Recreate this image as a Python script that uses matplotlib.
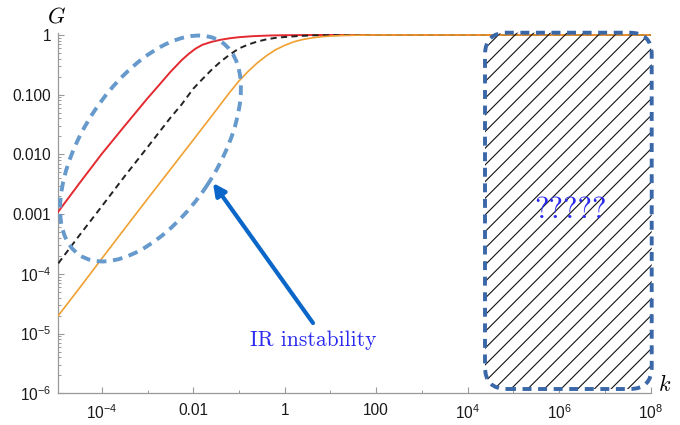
import matplotlib
matplotlib.use("Agg")
import matplotlib.pyplot as plt
from matplotlib.patches import Ellipse, FancyBboxPatch

plt.rcParams['mathtext.fontset'] = 'custom'
plt.rcParams['mathtext.rm'] = 'Liberation Sans'
plt.rcParams['mathtext.it'] = 'Liberation Sans:italic'
plt.rcParams['mathtext.bf'] = 'Liberation Sans:bold'
plt.rcParams['font.family'] = ['Liberation Sans', 'DejaVu Sans']
plt.rcParams['hatch.linewidth'] = 0.8

# ---- data ----
k_red = [1.12e-5, 3.16e-5, 1e-4, 3.16e-4, 1e-3, 2e-3, 3.16e-3, 5.6e-3, 7.9e-3,
         1.12e-2, 1.58e-2, 2.5e-2, 4e-2, 6.3e-2, 0.1, 0.2, 0.5, 1.0, 3.16, 10.0, 1e8]
G_red = [1.10e-3, 3.2e-3, 1.02e-2, 3.0e-2, 8.7e-2, 0.16, 0.24, 0.38, 0.48,
         0.59, 0.684, 0.767, 0.832, 0.881, 0.918, 0.955, 0.982, 0.991, 0.998, 1.0, 1.0]

k_black = [1.12e-5, 3.16e-5, 1e-4, 3.16e-4, 1e-3, 3.16e-3, 5.6e-3, 1e-2, 1.58e-2,
           2.5e-2, 4e-2, 6.3e-2, 0.1, 0.158, 0.25, 0.4, 0.63, 1.0, 2.0, 4.0, 10.0,
           31.6, 100.0, 1e8]
G_black = [1.5e-4, 4.3e-4, 1.35e-3, 4.3e-3, 1.32e-2, 4.1e-2, 6.9e-2, 0.126, 0.182,
           0.26, 0.36, 0.47, 0.595, 0.69, 0.775, 0.845, 0.895, 0.925, 0.96, 0.985,
           0.993, 0.998, 1.0, 1.0]

k_orange = [1.12e-5, 3.16e-5, 1e-4, 3.16e-4, 1e-3, 3.16e-3, 1e-2, 3.16e-2, 6.3e-2,
            0.1, 0.158, 0.25, 0.4, 0.63, 1.0, 1.58, 2.5, 4.0, 6.3, 10.0, 20.0, 50.0,
            100.0, 1e8]
G_orange = [2.0e-5, 5.6e-5, 1.8e-4, 5.7e-4, 1.8e-3, 5.6e-3, 1.75e-2, 0.055, 0.11,
            0.17, 0.245, 0.34, 0.45, 0.565, 0.67, 0.77, 0.84, 0.895, 0.935, 0.96,
            0.983, 0.995, 1.0, 1.0]

x_major = [1e-4, 1e-2, 1, 1e2, 1e4, 1e6, 1e8]
x_major_labels = [r'$10^{-4}$', '0.01', '1', '100', r'$10^{4}$', r'$10^{6}$', r'$10^{8}$']
x_minor = [1e-3, 1e-1, 1e1, 1e3, 1e5, 1e7]
y_major = [1e-6, 1e-5, 1e-4, 1e-3, 1e-2, 1e-1, 1]
y_major_labels = [r'$10^{-6}$', r'$10^{-5}$', r'$10^{-4}$', '0.001', '0.010', '0.100', '1']

# ---- figure ----
fig = plt.figure(figsize=(6.8, 4.25), dpi=100)
ax = fig.add_axes([0.0857, 0.0746, 0.8712, 0.8478])
ax.set_xscale('log')
ax.set_yscale('log')
ax.set_xlim(1.12e-5, 1e8)
ax.set_ylim(1e-6, 1.08)

ax.plot(k_red, G_red, color='#e32a30', lw=1.4, zorder=3)
ax.plot(k_black, G_black, color='#222222', lw=1.4, linestyle=(0, (3.2, 2.2)), zorder=3)
ax.plot(k_orange, G_orange, color='#f0a030', lw=1.2, zorder=4)

for s in ['top', 'right']:
    ax.spines[s].set_visible(False)
for s in ['left', 'bottom']:
    ax.spines[s].set_color('#999999')
    ax.spines[s].set_linewidth(0.9)

ax.set_xticks(x_major)
ax.set_xticklabels(x_major_labels)
ax.set_xticks(x_minor, minor=True)
ax.set_xticklabels([], minor=True)
ax.set_yticks(y_major)
ax.set_yticklabels(y_major_labels)
ymin = []
for d in y_major[:-1]:
    for m in range(2, 10):
        ymin.append(d * m)
ax.set_yticks(ymin, minor=True)
ax.set_yticklabels([], minor=True)
ax.tick_params(which='major', direction='in', length=4.5, width=0.8, color='#999999',
               labelsize=11.2, labelcolor='#1a1a1a')
ax.tick_params(which='minor', direction='in', length=2.5, width=0.7, color='#999999')
ax.tick_params(axis='x', which='major', pad=7)
ax.tick_params(axis='y', which='major', pad=5)

# axis labels
fig.text(57, 425 - 17, 'G', transform=None, family=['cmmi10', 'DejaVu Serif'],
         fontsize=16, ha='center', va='center')
fig.text(665, 425 - 385, 'k', transform=None, family=['cmmi10', 'DejaVu Serif'],
         fontsize=16, ha='center', va='center')

# dashed ellipse (IR region)
ell = Ellipse((1.505, 2.765), 2.56, 1.35, angle=56.4, transform=fig.dpi_scale_trans,
              fill=False, edgecolor='#6699cc', lw=2.8, linestyle=(0, (2.5, 1.7)),
              clip_on=False, zorder=5)
fig.add_artist(ell)

# hatched rounded box (UV region)
hatch_box = FancyBboxPatch((4.85, 0.36), 1.667, 3.563,
                           boxstyle='round,pad=0,rounding_size=0.22',
                           transform=fig.dpi_scale_trans, facecolor='none',
                           edgecolor='#111111', lw=0, hatch='//', clip_on=False, zorder=2)
fig.add_artist(hatch_box)
border_box = FancyBboxPatch((4.85, 0.36), 1.667, 3.563,
                            boxstyle='round,pad=0,rounding_size=0.22',
                            transform=fig.dpi_scale_trans, facecolor='none',
                            edgecolor='#3a67a8', lw=2.8, linestyle=(0, (2.3, 1.7)),
                            clip_on=False, zorder=5)
fig.add_artist(border_box)

fig.text(571, 425 - 210, '?????', transform=None, family=['cmr10', 'DejaVu Serif'],
         fontsize=22, color='#2a2af0', ha='center', va='center', zorder=6)

# arrow and label
ax.annotate('', xy=(213, 425 - 183), xycoords='figure pixels',
            xytext=(313, 425 - 323), textcoords='figure pixels',
            arrowprops=dict(arrowstyle='-|>', color='#0a66c8', lw=3,
                            mutation_scale=18, shrinkA=0, shrinkB=0),
            zorder=6)
fig.text(313, 425 - 340, 'IR instability', transform=None,
         family=['cmr10', 'DejaVu Serif'], fontsize=15.5, color='#2a2af0',
         ha='center', va='center')

fig.savefig('out.png', dpi=100)
